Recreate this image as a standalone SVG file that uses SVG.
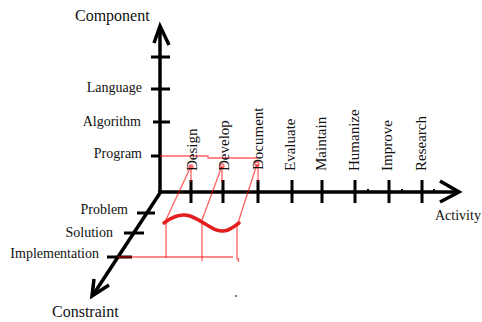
<svg xmlns="http://www.w3.org/2000/svg" width="482" height="322" viewBox="0 0 482 322">
<style>
text{font-family:"Liberation Serif","Times New Roman",serif;fill:#111}
.lbl{font-size:14px}
.act{font-size:15px}
.ax{font-size:16px}
.axis{stroke:#000;stroke-width:3.5;fill:none;stroke-linecap:butt;stroke-linejoin:miter}
.tick{stroke:#000;stroke-width:3}
.rl{stroke:#ff0000;stroke-opacity:0.62;stroke-width:1.3;fill:none}
.wave{stroke:#e41e1e;stroke-width:3.5;fill:none;stroke-linecap:round}
</style>
<rect width="482" height="322" fill="#fff"/>
<g id="connectors">
  <g id="axes">
    <line class="axis" x1="160" y1="27" x2="160" y2="194"/>
    <polyline class="axis" points="154,43 160,26 169,45"/>
    <line class="axis" x1="158" y1="192" x2="459" y2="192"/>
    <polyline class="axis" points="440,181 459,192 440,202"/>
    <line class="axis" x1="160" y1="193" x2="93" y2="295"/>
    <polyline class="axis" points="94,279 92,296 109,285"/>
  </g>
  <g id="ticks">
    <line class="tick" x1="151" y1="57" x2="170" y2="57"/>
    <line class="tick" x1="151" y1="89" x2="170" y2="89"/>
    <line class="tick" x1="153" y1="122" x2="170" y2="122"/>
    <line class="tick" x1="151" y1="156" x2="161" y2="156"/>
    <line class="tick" x1="191" y1="180" x2="191" y2="203"/>
    <line class="tick" x1="223" y1="180" x2="223" y2="203"/>
    <line class="tick" x1="258" y1="180" x2="258" y2="203"/>
    <line class="tick" x1="292" y1="180" x2="292" y2="203"/>
    <line class="tick" x1="322" y1="180" x2="322" y2="203"/>
    <line class="tick" x1="355" y1="180" x2="355" y2="203"/>
    <line class="tick" x1="389" y1="180" x2="389" y2="203"/>
    <line class="tick" x1="422" y1="180" x2="422" y2="203"/>
    <line class="tick" x1="137" y1="213" x2="155" y2="213"/>
    <line class="tick" x1="124" y1="233" x2="144" y2="233"/>
    <line class="tick" x1="107" y1="257" x2="132" y2="257"/>
  </g>
  <g id="dots" fill="#000">
    <rect x="367" y="189" width="2" height="2"/>
    <rect x="401" y="189" width="2" height="2"/>
    <rect x="433" y="189" width="2" height="2"/>
    <rect x="235" y="295" width="2" height="2" fill="#777"/>
  </g>
  <g id="red-lines">
    <polyline class="rl" points="160,156 208,156 208,158 258,158"/>
    <circle class="rl" cx="191" cy="167" r="2"/>
    <circle class="rl" cx="222" cy="166" r="2"/>
    <circle class="rl" cx="257" cy="164" r="2"/>
    <line class="rl" x1="191" y1="166" x2="191" y2="182"/>
    <line class="rl" x1="222" y1="166" x2="222" y2="182"/>
    <line class="rl" x1="258" y1="164" x2="258" y2="182"/>
    <line class="rl" x1="191" y1="166" x2="165" y2="222"/>
    <line class="rl" x1="222" y1="166" x2="202" y2="220"/>
    <line class="rl" x1="257" y1="164" x2="238" y2="223"/>
    <line class="rl" x1="166" y1="223" x2="166" y2="258"/>
    <line class="rl" x1="202" y1="220" x2="202" y2="261"/>
    <line class="rl" x1="237" y1="224" x2="237" y2="260"/>
    <line class="rl" x1="118" y1="257" x2="233" y2="257"/>
    <line class="rl" x1="238.5" y1="258" x2="238.5" y2="262"/>
    <path class="wave" d="M164,223 C172,217 180,213 190,216 C205,221 215,235 228,230 C233,228 236,225 239,223"/>
  </g>
</g>
<g id="node-component"><text class="ax" x="75" y="21">Component</text></g>
<g id="node-activity"><text class="lbl" x="435" y="220">Activity</text></g>
<g id="node-constraint"><text class="ax" x="52" y="317">Constraint</text></g>
<g id="node-language"><text class="lbl" x="142" y="92" text-anchor="end">Language</text></g>
<g id="node-algorithm"><text class="lbl" x="141" y="126" text-anchor="end">Algorithm</text></g>
<g id="node-program"><text class="lbl" x="142" y="158" text-anchor="end">Program</text></g>
<g id="node-problem"><text class="lbl" x="128" y="214" text-anchor="end">Problem</text></g>
<g id="node-solution"><text class="lbl" x="113" y="237" text-anchor="end">Solution</text></g>
<g id="node-implementation"><text class="lbl" x="99" y="258" text-anchor="end">Implementation</text></g>
<g id="node-design"><text class="act" transform="translate(197,171) rotate(-90)">Design</text></g>
<g id="node-develop"><text class="act" transform="translate(229,171) rotate(-90)">Develop</text></g>
<g id="node-document"><text class="act" transform="translate(263,170) rotate(-90)">Document</text></g>
<g id="node-evaluate"><text class="act" transform="translate(295,171) rotate(-90)">Evaluate</text></g>
<g id="node-maintain"><text class="act" transform="translate(326,171) rotate(-90)">Maintain</text></g>
<g id="node-humanize"><text class="act" transform="translate(359,171) rotate(-90)">Humanize</text></g>
<g id="node-improve"><text class="act" transform="translate(392,171) rotate(-90)">Improve</text></g>
<g id="node-research"><text class="act" transform="translate(426,171) rotate(-90)">Research</text></g>
</svg>
